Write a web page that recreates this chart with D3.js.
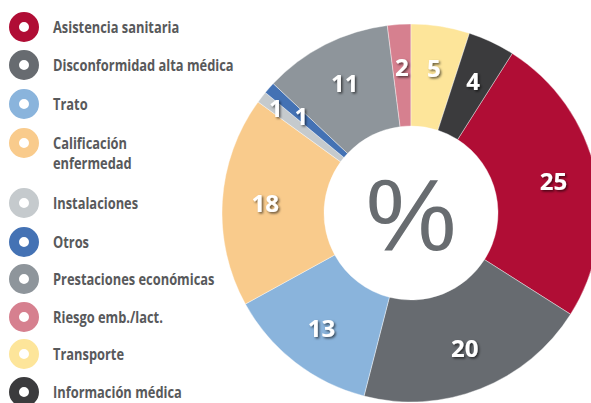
<!DOCTYPE html>
<html>
<head>
<meta charset="utf-8">
<script src="https://cdn.jsdelivr.net/npm/d3@7"></script>
<style>
  body { margin: 0; background: #fff; }
  svg { display: block; }
  .legend text { font-family: "Open Sans", sans-serif; font-weight: bold; font-size: 16.5px; fill: #58595b; }
  .lbl { font-family: "Open Sans", sans-serif; font-weight: bold; font-size: 24px; fill: #fff; }
</style>
</head>
<body>
<svg id="chart" width="591" height="403"></svg>
<script>
// categories in legend order (also clockwise order of the slices)
var categories = [
    ["Asistencia sanitaria"],
    ["Disconformidad alta médica"],
    ["Trato"],
    ["Calificación", "enfermedad"],
    ["Instalaciones"],
    ["Otros"],
    ["Prestaciones económicas"],
    ["Riesgo emb./lact."],
    ["Transporte"],
    ["Información médica"]
];
var values = [25, 20, 13, 18, 1, 1, 11, 2, 5, 4];
var colors = ["#b00d35", "#676b70", "#8ab4dc", "#f9cb8c", "#c5cacd",
              "#4472b4", "#8e959b", "#d6808f", "#fde59a", "#3b3b3d"];

var svg = d3.select("#chart");

// ---- donut ----
var cx = 411, cy = 213,
    r_in = 87, r_out = 189;

var total = d3.sum(values),
    // last two slices (Transporte, Información) sit before 12 o'clock
    offset = 2 * Math.PI * (values[8] + values[9]) / total;

var pie = d3.pie()
    .sort(null)
    .value(function(d) { return d; })
    .startAngle(offset)
    .endAngle(offset + 2 * Math.PI);

var arcs = pie(values);

var arc = d3.arc()
    .innerRadius(r_in)
    .outerRadius(r_out);

var defs = svg.append("defs");
var f = defs.append("filter")
    .attr("id", "shadow")
    .attr("x", "-50%").attr("y", "-50%")
    .attr("width", "200%").attr("height", "200%");
f.append("feDropShadow")
    .attr("dx", 1.5).attr("dy", 1.5)
    .attr("stdDeviation", 1)
    .attr("flood-color", "#000")
    .attr("flood-opacity", 0.6);

var g = svg.append("g")
    .attr("transform", "translate(" + cx + "," + cy + ")");

g.selectAll("path")
    .data(arcs)
    .enter().append("path")
    .attr("d", arc)
    .attr("fill", function(d, i) { return colors[i]; })
    .attr("stroke", "#fff")
    .attr("stroke-width", 0.4);

var labelArc = d3.arc()
    .innerRadius(146)
    .outerRadius(146);

// the two 1% labels are staggered so they don't collide
var smallArc = d3.arc()
    .innerRadius(171)
    .outerRadius(171);

g.selectAll("text.lbl")
    .data(arcs)
    .enter().append("text")
    .attr("class", "lbl")
    .attr("filter", "url(#shadow)")
    .attr("text-anchor", "middle")
    .attr("dy", "0.36em")
    .attr("transform", function(d, i) {
        var p = (i === 4 ? smallArc : labelArc).centroid(d);
        return "translate(" + p + ")";
    })
    .text(function(d) { return d.value; });

g.append("text")
    .attr("text-anchor", "middle")
    .attr("y", 37)
    .attr("font-family", "'Liberation Sans', Arial, sans-serif")
    .attr("font-size", 102)
    .attr("fill", "#686c70")
    .text("%");

// ---- legend ----
var rowY = [27, 65, 104, 143, 203, 242, 279, 317, 354, 392];

var legend = svg.append("g")
    .attr("class", "legend");

var item = legend.selectAll("g")
    .data(categories)
    .enter().append("g")
    .attr("transform", function(d, i) { return "translate(24," + rowY[i] + ")"; });

item.append("circle")
    .attr("r", 10)
    .attr("fill", "none")
    .attr("stroke", function(d, i) { return colors[i]; })
    .attr("stroke-width", 10);

item.append("text")
    .attr("transform", "translate(29,6) scale(0.78,1)")
    .selectAll("tspan")
    .data(function(d) { return d; })
    .enter().append("tspan")
    .attr("x", 0)
    .attr("dy", function(d, i) { return i === 0 ? 0 : 20; })
    .text(function(d) { return d; });
</script>
</body>
</html>
